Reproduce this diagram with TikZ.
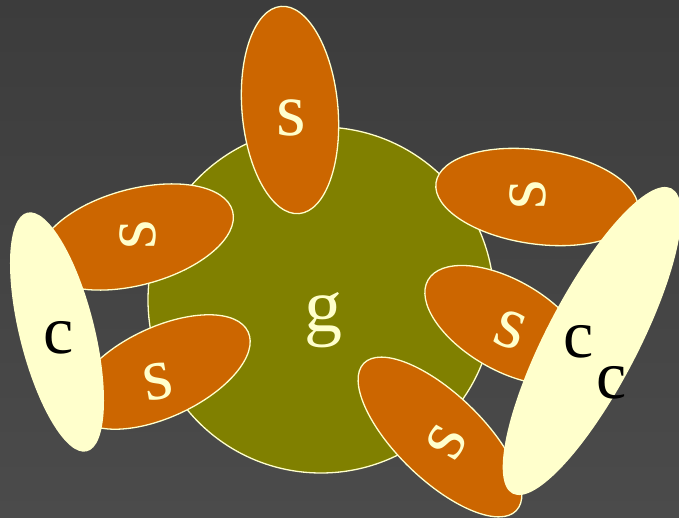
\documentclass[tikz,border=0pt]{standalone}
\usepackage{fontspec}
\setmainfont{Liberation Serif}
\usepackage{tikz}
\usetikzlibrary{shapes.geometric}

\definecolor{cream}{HTML}{FFFFCC}
\definecolor{olivegreen}{HTML}{808000}
\definecolor{rust}{HTML}{CC6600}
\definecolor{bgtop}{HTML}{3C3C3C}
\definecolor{bgbottom}{HTML}{4B4B4B}

\begin{document}
\begin{tikzpicture}[
    x=1pt, y=-1pt,
    gnode/.style={circle, draw=cream, fill=olivegreen, line width=1.3pt, minimum size=346pt, inner sep=0pt},
    snode/.style={ellipse, draw=cream, fill=rust, line width=1.3pt, inner sep=0pt},
    cnode/.style={ellipse, fill=cream, inner sep=0pt},
    stext/.style={text=cream, inner sep=0pt, font=\fontsize{76}{76}\selectfont},
    ctext/.style={text=black, inner sep=0pt, font=\fontsize{68}{68}\selectfont}
]

% Background
\useasboundingbox (0,0) rectangle (679,518);
\shade[top color=bgtop, bottom color=bgbottom] (0,0) rectangle (679,518);

% Center: g
\node[gnode, label={[stext, xshift=2pt, yshift=-20pt]center:g}] (g) at (321,300) {};

% Ring of s
\node[snode, minimum width=208pt, minimum height=96pt, rotate=95,
      label={[stext, xshift=1pt, yshift=-8pt]center:s}] (s1) at (290,110) {};
\node[snode, minimum width=204pt, minimum height=94pt, rotate=-8,
      label={[stext, xshift=-9pt, yshift=2pt, rotate=90]center:s}] (s2) at (537,197) {};
\node[snode, minimum width=200pt, minimum height=96pt, rotate=15,
      label={[stext, xshift=2pt, yshift=2pt, rotate=90]center:s}] (s3) at (136,237) {};
\node[snode, minimum width=190pt, minimum height=90pt, rotate=25,
      label={[stext, xshift=-4pt, yshift=-10pt, rotate=10]center:s}] (s4) at (162,372) {};
\node[snode, minimum width=180pt, minimum height=90pt, rotate=-30,
      label={[stext, xshift=4pt, yshift=-5pt, rotate=-20]center:s}] (s5) at (506,325) {};
\node[snode, minimum width=212pt, minimum height=86pt, rotate=-44,
      label={[stext, xshift=7pt, yshift=-5pt, rotate=60]center:s}] (s6) at (440,437) {};

% Outer c
\node[cnode, minimum width=246pt, minimum height=75pt, rotate=104,
      label={[ctext, xshift=2pt, yshift=-6pt]center:c}] (c1) at (57,332) {};
\node[cnode, minimum width=344pt, minimum height=92pt, rotate=62.5,
      label={[ctext, xshift=-13pt, yshift=-1pt]center:c},
      label={[ctext, xshift=20pt, yshift=-42pt]center:c}] (c2) at (592,341) {};

\end{tikzpicture}
\end{document}
